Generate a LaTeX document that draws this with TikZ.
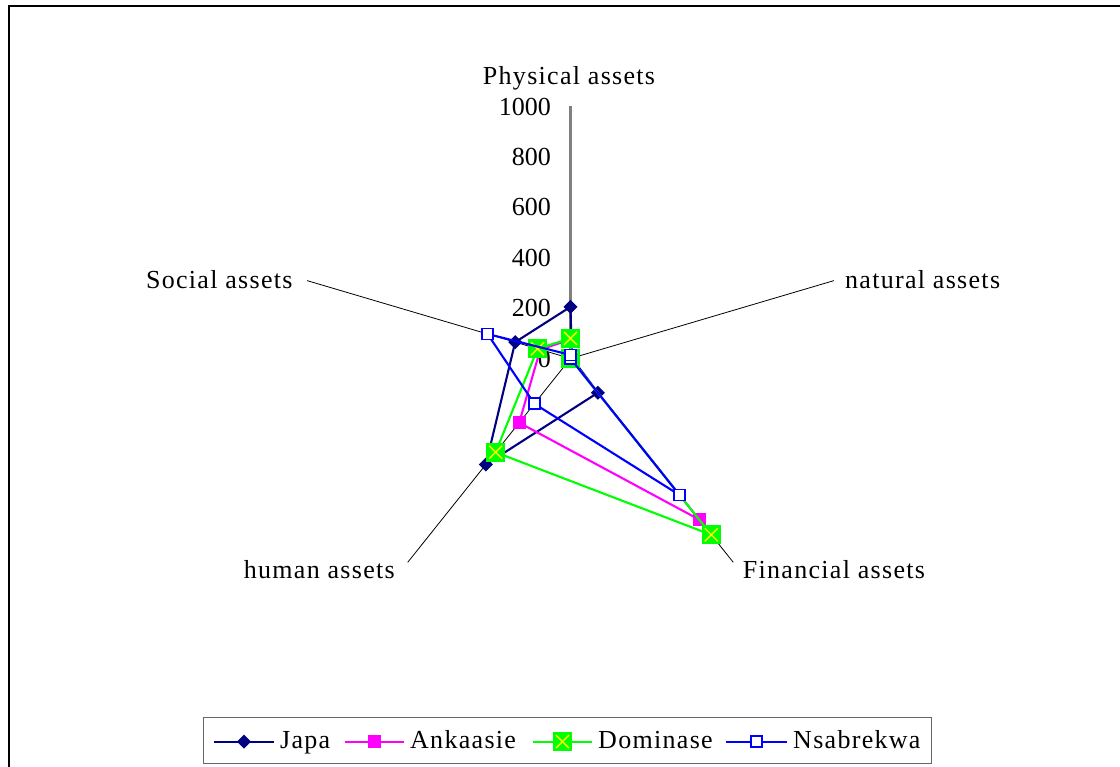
\documentclass[tikz,border=0pt]{standalone}
\usepackage{fontspec}
\setmainfont{Liberation Serif}
\newfontfamily\chartfont{Liberation Serif}[LetterSpace=5]

\begin{document}
\begin{tikzpicture}[x=1pt, y=1pt]
    % Chart colours
    \definecolor{japa}{RGB}{0,0,128}
    \definecolor{ankaasie}{RGB}{255,0,255}
    \definecolor{dominase}{RGB}{0,255,0}
    \definecolor{nsabrekwa}{RGB}{0,0,255}
    \definecolor{xmark}{RGB}{255,255,0}
    \definecolor{valaxis}{RGB}{128,128,128}

    % Parameters
    \def\cx{570.5}     % centre of the radar
    \def\cy{408.5}
    \def\lw{2.1pt}     % series line width

    \tikzset{
        axislabel/.style={inner sep=0pt, font=\fontsize{26}{28}\selectfont\chartfont},
        ticklabel/.style={inner sep=0pt, anchor=east, font=\fontsize{26}{28}\selectfont},
        legendtext/.style={inner sep=0pt, anchor=base west, font=\fontsize{26}{28}\selectfont\chartfont}
    }

    % Markers, argument is the position
    \newcommand{\markjapa}[1]{
        \fill[japa] (#1) ++(0pt,7pt) -- ++(-7pt,-7pt) -- ++(7pt,-7pt) -- ++(7pt,7pt) -- cycle;
    }
    \newcommand{\markankaasie}[1]{
        \fill[ankaasie] (#1) ++(-6.5pt,-6.5pt) rectangle ++(13pt,13pt);
    }
    \newcommand{\markdominase}[1]{
        \fill[dominase] (#1) ++(-9.5pt,-9.5pt) rectangle ++(19pt,19pt);
        \draw[xmark, line width=1.4pt] (#1) ++(-6.5pt,-6.5pt) -- ++(13pt,13pt)
            (#1) ++(-6.5pt,6.5pt) -- ++(13pt,-13pt);
    }
    \newcommand{\marknsabrekwa}[1]{
        \filldraw[nsabrekwa, fill=white, line width=1.5pt] (#1) ++(-5.5pt,-5.5pt) rectangle ++(11pt,11pt);
    }

    % One series: colour, marker, physical, natural, financial, human, social
    \newcommand{\radarseries}[7]{
        \draw[#1, line width=\lw, line join=round]
            (90:#3) -- (18:#4) -- (-54:#5) -- (-126:#6) -- (162:#7) -- cycle;
        \foreach \a/\v in {18/#4, 90/#3, -54/#5, -126/#6, 162/#7} {
            #2{\a:\v}
        }
    }

    % Canvas and frame
    \useasboundingbox (0,0) rectangle (1120,767);
    \fill[white] (0,0) rectangle (1120,767);
    \draw[line width=2.5pt] (1120,761) -- (9,761) -- (9,0);

    % Radar, one unit = value 1
    \begin{scope}[shift={(\cx,\cy)}, x=0.277pt, y=0.252pt]
        \coordinate (O) at (0,0);

        % Axes
        \foreach \a/\n in {18/nat, -54/fin, -126/hum, 162/soc} {
            \coordinate (ax\n) at (\a:1000);
            \draw[black, line width=0.8pt] (O) -- (ax\n);
        }
        \coordinate (axphys) at (90:1000);
        \draw[valaxis, line width=2.2pt] (O) -- (axphys);

        % Value labels
        \foreach \v in {0,200,...,1000} {
            \node[ticklabel] (tick\v) at ([xshift=-19.5pt]0,\v) {\v};
        }

        % Series
        \radarseries{japa}{\markjapa}{205}{5}{168}{520}{210}
        \radarseries{ankaasie}{\markankaasie}{75}{0}{790}{315}{115}
        \radarseries{dominase}{\markdominase}{80}{0}{865}{460}{125}
        \radarseries{nsabrekwa}{\marknsabrekwa}{14}{0}{670}{222}{315}
    \end{scope}

    % Axis labels
    \node[axislabel, anchor=base] (lblphys) at (569,682) {Physical assets};
    \node[axislabel, anchor=base west] (lblnat) at (845,478) {natural assets};
    \node[axislabel, anchor=base west] (lblfin) at (742.7,188.7) {Financial assets};
    \node[axislabel, anchor=base east] (lblhum) at (395,188.7) {human assets};
    \node[axislabel, anchor=base east] (lblsoc) at (292.7,478) {Social assets};

    % Legend
    \draw[gray!80!black, line width=0.9pt] (203.3,3.7) rectangle (931.7,49.3);
    \foreach \n/\xa/\xb/\t in {japa/214/274/Japa, ankaasie/345/404/Ankaasie,
                               dominase/533/592/Dominase, nsabrekwa/726/787/Nsabrekwa} {
        \coordinate (leg\n a) at (\xa,25.3);
        \coordinate (leg\n b) at (\xb,25.3);
        \coordinate (leg\n m) at ({(\xa+\xb)/2},25.3);
        \draw[\n, line width=\lw] (leg\n a) -- (leg\n b);
        \node[legendtext] (leg\n) at ([xshift=6pt]\xb,18) {\t};
    }
    \markjapa{legjapam}
    \markankaasie{legankaasiem}
    \markdominase{legdominasem}
    \marknsabrekwa{legnsabrekwam}

\end{tikzpicture}
\end{document}
